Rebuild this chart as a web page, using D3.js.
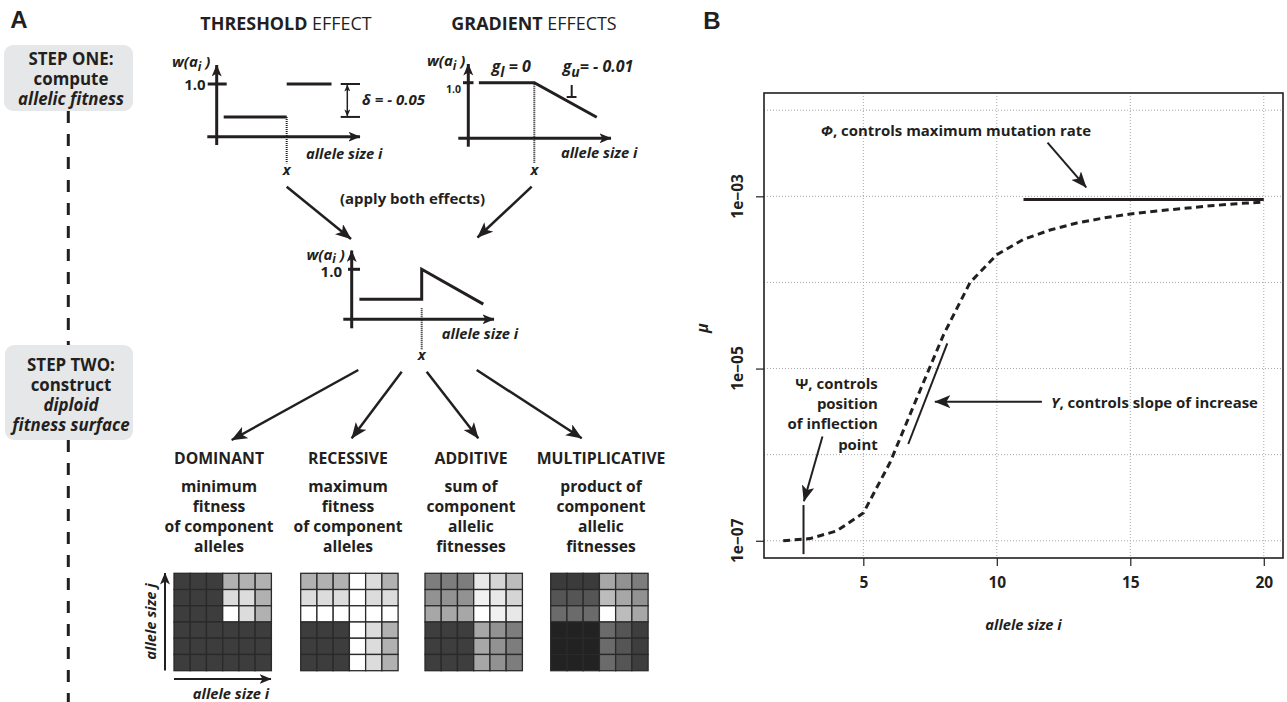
<!DOCTYPE html>
<html><head><meta charset="utf-8">
<script src="https://cdn.jsdelivr.net/npm/d3@7/dist/d3.min.js"></script>
<style>html,body{margin:0;padding:0;background:#fff;} svg{display:block;}</style>
</head><body>
<svg id="fig" width="1287" height="702"></svg>
<script>
// ================= DATA =================
// Panel B: mutation rate curve
const alleleSizes = [2,3,4,5,6,7,8,9,10,11,12,13,14,15,16,17,18,19,20];
const mutationRate = [1.0e-7,1.06e-7,1.30e-7,2.1e-7,8.1e-7,4.5e-6,2.45e-5,1.0e-4,2.1e-4,3.16e-4,4.07e-4,4.9e-4,5.6e-4,6.24e-4,6.76e-4,7.24e-4,7.76e-4,8.22e-4,8.6e-4];
const phiLevel = 9.2e-4;
const phiRange = [11, 20];
const xTickValues = [5, 10, 15, 20];
const yTickValues = [1e-3, 1e-5, 1e-7];
const yTickLabels = ["1e\u221203", "1e\u221205", "1e\u221207"];
const yGridValues = [1e-2, 1e-3, 1e-4, 1e-5, 1e-6, 1e-7];

// Panel A: schematic allelic fitness curves [allele size, fitness]
const thresholdLow  = [[0.5, 0.95], [5, 0.95]];
const thresholdHigh = [[5, 1.0], [8.2, 1.0]];
const gradientCurve = [[0.8, 1.0], [5, 1.0], [9.73, 0.9527]];
const combinedCurve = [[0.55, 0.95], [5, 0.95], [5, 1.0], [9.4, 0.942]];

const modelNames = ["DOMINANT", "RECESSIVE", "ADDITIVE", "MULTIPLICATIVE"];
const modelDescriptions = [
  ["minimum", "fitness", "of component", "alleles"],
  ["maximum", "fitness", "of component", "alleles"],
  ["sum of", "component", "allelic", "fitnesses"],
  ["product of", "component", "allelic", "fitnesses"]
];
// diploid fitness surfaces: grey level (0 black .. 255 white), rows top->bottom
const dominantGrid = [
  [61,61,61,177,177,177],
  [61,61,61,220,220,177],
  [61,61,61,255,220,177],
  [61,61,61,61,61,61],
  [61,61,61,61,61,61],
  [61,61,61,61,61,61]
];
const recessiveGrid = [
  [177,177,177,255,220,177],
  [220,220,220,255,220,220],
  [255,255,255,255,255,255],
  [61,61,61,255,220,177],
  [61,61,61,255,220,177],
  [61,61,61,255,220,177]
];
const additiveGrid = [
  [125,125,125,232,213,188],
  [146,146,146,241,232,213],
  [167,167,167,255,241,232],
  [62,62,62,167,146,125],
  [62,62,62,167,146,125],
  [62,62,62,167,146,125]
];
const multiplicativeGrid = [
  [59,59,59,167,146,125],
  [85,85,85,188,167,146],
  [107,107,107,255,188,167],
  [34,34,34,107,85,62],
  [34,34,34,107,85,62],
  [34,34,34,107,85,62]
];

// ================= HELPERS =================
const INK = '#231f20';
const FONT = '"Open Sans", Lato, "DejaVu Sans", sans-serif';
const svg = d3.select('#fig');
const defs = svg.append('defs');
function addMarker(id, len, wid) {
  defs.append('marker').attr('id', id)
    .attr('viewBox', `0 ${-wid/2} ${len} ${wid}`)
    .attr('refX', len - 0.5).attr('refY', 0)
    .attr('markerUnits', 'userSpaceOnUse')
    .attr('markerWidth', len).attr('markerHeight', wid)
    .attr('orient', 'auto-start-reverse')
    .append('path')
    .attr('d', `M0,${-wid/2}L${len},0L0,${wid/2}L${len*0.25},0Z`)
    .attr('fill', INK);
}
addMarker('ahL', 16, 13);
addMarker('ahM', 12, 10);
addMarker('ahS', 7, 6);

function fillParts(t, parts) {
  if (typeof parts === 'string') { t.text(parts); return; }
  parts.forEach(p => {
    const s = t.append('tspan').text(p.t);
    if (p.w) s.attr('font-weight', p.w);
    if (p.s) s.attr('font-style', p.s);
    if (p.dy !== undefined) s.attr('dy', p.dy);
    if (p.fs) s.attr('font-size', p.fs);
  });
}
const meas = svg.append('text').attr('font-family', FONT).attr('visibility', 'hidden');
function textWidth(parts, size, o = {}) {
  meas.selectAll('*').remove(); meas.text(null);
  meas.attr('font-size', size).attr('font-weight', o.weight || 'bold').attr('font-style', o.style || 'normal');
  fillParts(meas, parts);
  return meas.node().getComputedTextLength();
}
// font size that gives the width measured on the reference
function fitSize(parts, target, o = {}) {
  const s = 16 * target / textWidth(parts, 16, o);
  return Math.max(11, Math.min(20, s));
}
function label(g, x, y, parts, o = {}) {
  const size = o.size || 16;
  const t = g.append('text')
    .attr('font-family', o.family || FONT)
    .attr('font-size', size)
    .attr('font-weight', o.weight || 'bold')
    .attr('font-style', o.style || 'normal')
    .attr('fill', INK)
    .attr('text-anchor', o.anchor || 'middle');
  if (o.rotate) t.attr('transform', `translate(${x},${y}) rotate(${o.rotate})`).attr('x', 0).attr('y', size * 0.36);
  else t.attr('x', x).attr('y', y + size * 0.36);
  fillParts(t, parts);
  return t;
}
function seg(g, x1, y1, x2, y2, o = {}) {
  const l = g.append('line').attr('x1', x1).attr('y1', y1).attr('x2', x2).attr('y2', y2)
    .attr('stroke', o.color || INK).attr('stroke-width', o.w || 3);
  if (o.dash) l.attr('stroke-dasharray', o.dash);
  if (o.end) l.attr('marker-end', `url(#${o.end})`);
  if (o.start) l.attr('marker-start', `url(#${o.start})`);
  return l;
}

// font sizes fitted to widths on the reference
const sStep = fitSize('STEP ONE:', 85);
const titleThr = [{ t: 'THRESHOLD', w: 'bold' }, { t: ' EFFECT', w: 'normal' }];
const titleGrad = [{ t: 'GRADIENT', w: 'bold' }, { t: ' EFFECTS', w: 'normal' }];
const sTitle = (fitSize(titleThr, 171.7) + fitSize(titleGrad, 165)) / 2;
const sApply = fitSize('(apply both effects)', 145);
const sAllele = fitSize('allele size i', 76.5, { style: 'italic' });
const sModel = (fitSize('DOMINANT', 85) + fitSize('MULTIPLICATIVE', 132) + fitSize('RECESSIVE', 82.6)) / 3;
const sDesc = (fitSize('of component', 115) + fitSize('minimum', 71.7) + fitSize('product of', 81.7)) / 3;
const phiText = [{ t: '\u03a6', s: 'italic' }, { t: ', controls maximum mutation rate' }];
const upsText = [{ t: '\u03a5', s: 'italic' }, { t: ', controls slope of increase' }];
const sAnnB = (fitSize(phiText, 269.5) + fitSize(upsText, 208)) / 2;

// ================= PANEL A =================
const gA = svg.append('g');
label(gA, 19, 19, 'A', { size: 24, family: '"Liberation Sans", Arial, sans-serif' });

// spine & step boxes
seg(gA, 68.3, 111, 68.3, 345, { dash: '12,11' });
seg(gA, 68.3, 440, 68.3, 702, { dash: '12,11' });
gA.append('rect').attr('x', 4).attr('y', 45).attr('width', 129).attr('height', 66).attr('rx', 9).attr('fill', '#e6e7e8');
gA.append('rect').attr('x', 5).attr('y', 345).attr('width', 128).attr('height', 95).attr('rx', 9).attr('fill', '#e6e7e8');
label(gA, 71, 58.5, 'STEP ONE:', { size: sStep });
label(gA, 71, 78.5, 'compute', { size: sStep });
label(gA, 71, 98.5, 'allelic fitness', { size: sStep, style: 'italic' });
label(gA, 71, 365, 'STEP TWO:', { size: sStep });
label(gA, 71, 385, 'construct', { size: sStep });
label(gA, 71, 405, 'diploid', { size: sStep, style: 'italic' });
label(gA, 71, 425, 'fitness surface', { size: sStep, style: 'italic' });

// titles
label(gA, 286, 24, titleThr, { size: sTitle });
label(gA, 534, 24, titleGrad, { size: sTitle });

const wLabel = [{ t: 'w(a' }, { t: 'i', dy: 3.5, fs: 12 }, { t: ' )', dy: -3.5 }];
const lineGen = (xs, ys) => d3.line().x(d => xs(d[0])).y(d => ys(d[1]));

// --- threshold mini plot
const xs1 = d3.scaleLinear().domain([0, 10]).range([216.7, 356.7]);
const ys1 = d3.scaleLinear().domain([0.92, 1.0]).range([136.7, 84]);
seg(gA, xs1(0), 145, xs1(0), 65, { end: 'ahM' });
seg(gA, 207.3, ys1(0.92), 360, ys1(0.92), { end: 'ahM' });
seg(gA, xs1(0) - 9, ys1(1), xs1(0) + 10, ys1(1));
label(gA, xs1(0) - 11, ys1(1) + 1, '1.0', { size: 15, anchor: 'end' });
label(gA, 172, 62, wLabel, { size: 15, anchor: 'start', style: 'italic' });
gA.append('path').attr('d', lineGen(xs1, ys1)(thresholdLow)).attr('fill', 'none').attr('stroke', INK).attr('stroke-width', 3);
gA.append('path').attr('d', lineGen(xs1, ys1)(thresholdHigh)).attr('fill', 'none').attr('stroke', INK).attr('stroke-width', 3);
seg(gA, xs1(5), ys1(0.95), xs1(5), 163.3, { w: 2, dash: '1,1' });
label(gA, xs1(5), 170, 'x', { size: sAllele, style: 'italic' });
label(gA, 344.2, 153.3, 'allele size i', { size: sAllele, style: 'italic' });
// delta bracket
seg(gA, 340.7, ys1(1), 360, ys1(1), { w: 2 });
seg(gA, 340.7, ys1(0.95), 360, ys1(0.95), { w: 2 });
seg(gA, 347.3, ys1(1) + 1, 347.3, ys1(0.95) - 1, { w: 1.5, start: 'ahS', end: 'ahS' });
label(gA, 362, 100, '\u03b4 = - 0.05', { size: 15, style: 'italic', anchor: 'start' });

// --- gradient mini plot
const xs2 = d3.scaleLinear().domain([0, 10]).range([468.3, 600.3]);
const ys2 = d3.scaleLinear().domain([0.924, 1.0]).range([138.3, 82.7]);
seg(gA, xs2(0), 146.7, xs2(0), 64, { end: 'ahM' });
seg(gA, 458.3, ys2(0.924), 611, ys2(0.924), { end: 'ahM' });
seg(gA, 463, ys2(1), 473.5, ys2(1));
label(gA, 461, 89, '1.0', { size: 10.5, anchor: 'end' });
label(gA, 427, 61, wLabel, { size: 15, anchor: 'start', style: 'italic' });
gA.append('path').attr('d', lineGen(xs2, ys2)(gradientCurve)).attr('fill', 'none').attr('stroke', INK).attr('stroke-width', 3);
seg(gA, xs2(5), ys2(1) + 1, xs2(5), 163.3, { w: 2, dash: '1,1' });
label(gA, xs2(5), 170, 'x', { size: sAllele, style: 'italic' });
label(gA, 599.2, 152.7, 'allele size i', { size: sAllele, style: 'italic' });
label(gA, 491.7, 66.7, [{ t: 'g' }, { t: 'l', dy: 5, fs: 14 }, { t: ' = 0', dy: -5 }], { size: 16, style: 'italic', anchor: 'start' });
label(gA, 562.7, 66.7, [{ t: 'g' }, { t: 'u', dy: 5, fs: 14 }, { t: '= - 0.01', dy: -5 }], { size: 16, style: 'italic', anchor: 'start' });
seg(gA, 571.7, 85, 571.7, 97, { w: 2 });
seg(gA, 566.7, 97, 576.5, 97, { w: 2 });

// --- apply both effects
label(gA, 412.5, 198.3, '(apply both effects)', { size: sApply });
seg(gA, 286.7, 186.7, 351, 239, { w: 2.5, end: 'ahL' });
seg(gA, 531.7, 186.7, 477.5, 237.5, { w: 2.5, end: 'ahL' });

// --- combined mini plot
const xs3 = d3.scaleLinear().domain([0, 10]).range([351.7, 491.7]);
const ys3 = d3.scaleLinear().domain([0.9167, 1.0]).range([319.3, 269.3]);
seg(gA, xs3(0), 328.3, xs3(0), 250.5, { end: 'ahM' });
seg(gA, 343.3, ys3(0.9167), 494, ys3(0.9167), { end: 'ahM' });
seg(gA, 348, ys3(1), 360, ys3(1));
label(gA, 342, 271.5, '1.0', { size: 15, anchor: 'end' });
label(gA, 306.5, 254.5, wLabel, { size: 15, anchor: 'start', style: 'italic' });
gA.append('path').attr('d', lineGen(xs3, ys3)(combinedCurve)).attr('fill', 'none').attr('stroke', INK).attr('stroke-width', 3);
seg(gA, xs3(5), 308.3, xs3(5), 350, { w: 2, dash: '1,1' });
label(gA, xs3(5), 355, 'x', { size: sAllele, style: 'italic' });
label(gA, 480, 334, 'allele size i', { size: sAllele, style: 'italic' });

// --- arrows to four models
const arrowStarts = [[358.3, 370], [401.7, 371.7], [426.7, 371.7], [476.7, 370]];
const arrowEnds = [[231.7, 440], [351.7, 438.3], [478.3, 438.3], [581.7, 438.3]];
arrowStarts.forEach((s, k) => seg(gA, s[0], s[1], arrowEnds[k][0], arrowEnds[k][1], { w: 2.5, end: 'ahL' }));

// --- model columns
const colCenters = [219, 348, 471, 601];
const gridLeft = [174, 300.7, 425, 550.7];
const gridTop = 573.3, gridSize = 97.4;
modelNames.forEach((n, k) => {
  label(gA, colCenters[k], 458.3, n, { size: sModel });
  modelDescriptions[k].forEach((line, j) => label(gA, colCenters[k], 486.7 + 20 * j, line, { size: sDesc }));
});
const grids = [dominantGrid, recessiveGrid, additiveGrid, multiplicativeGrid];
grids.forEach((grid, k) => {
  const bx = d3.scaleBand().domain(d3.range(6)).range([gridLeft[k], gridLeft[k] + gridSize]);
  const by = d3.scaleBand().domain(d3.range(6)).range([gridTop, gridTop + gridSize]);
  const cells = grid.flatMap((row, r) => row.map((v, c) => ({ r, c, v })));
  gA.append('g').selectAll('rect').data(cells).join('rect')
    .attr('x', d => bx(d.c)).attr('y', d => by(d.r))
    .attr('width', bx.bandwidth()).attr('height', by.bandwidth())
    .attr('fill', d => d3.rgb(d.v, d.v, d.v))
    .attr('stroke', '#2a2a2a').attr('stroke-width', 1.3);
});
seg(gA, 165, 670.5, 165, 573, { w: 2, end: 'ahM' });
seg(gA, 174, 679, 271, 679, { w: 2, end: 'ahM' });
label(gA, 150.5, 621.5, 'allele size j', { size: sAllele, style: 'italic', rotate: -90 });
label(gA, 231, 693.5, 'allele size i', { size: sAllele, style: 'italic' });

// ================= PANEL B =================
const gB = svg.append('g');
label(gB, 712, 20, 'B', { size: 24, family: '"Liberation Sans", Arial, sans-serif' });
const xB = d3.scaleLinear().domain([1.28, 20.72]).range([764, 1283]);
const yB = d3.scaleLog().domain([Math.pow(10, -7.2), Math.pow(10, -1.8)]).range([558, 93]);
const [yBot, yTop] = yB.range();
const [xL, xR] = xB.range();
const P = (x, lg) => [xB(x), yB(Math.pow(10, lg))];

// grid
gB.append('g').selectAll('line').data(xTickValues).join('line')
  .attr('x1', d => xB(d)).attr('x2', d => xB(d)).attr('y1', yTop).attr('y2', yBot)
  .attr('stroke', '#a8a8a8').attr('stroke-width', 1).attr('stroke-dasharray', '1,2');
gB.append('g').selectAll('line').data(yGridValues).join('line')
  .attr('x1', xL).attr('x2', xR).attr('y1', d => yB(d)).attr('y2', d => yB(d))
  .attr('stroke', '#a8a8a8').attr('stroke-width', 1).attr('stroke-dasharray', '1,2');

// axes
const axX = gB.append('g').attr('transform', `translate(0,${yBot})`)
  .call(d3.axisBottom(xB).tickValues(xTickValues).tickSize(8).tickSizeOuter(0));
axX.select('.domain').remove();
axX.selectAll('line').attr('stroke', INK).attr('stroke-width', 1.2);
axX.selectAll('text').attr('font-family', FONT).attr('font-size', 15.5).attr('font-weight', 'bold')
  .attr('fill', INK).attr('y', 19);
const axY = gB.append('g').attr('transform', `translate(${xL},0)`)
  .call(d3.axisLeft(yB).tickValues(yTickValues).tickSize(8).tickSizeOuter(0).tickFormat(''));
axY.select('.domain').remove();
axY.selectAll('line').attr('stroke', INK).attr('stroke-width', 1.2);
yTickValues.forEach((v, i) => label(gB, 737.6, yB(v), yTickLabels[i], { size: 15.5, rotate: -90 }));
gB.append('rect').attr('x', xL).attr('y', yTop).attr('width', xR - xL).attr('height', yBot - yTop)
  .attr('fill', 'none').attr('stroke', INK).attr('stroke-width', 1.6);
label(gB, 702, 328, '\u03bc', { size: 16, style: 'italic', rotate: -90 });
label(gB, (xL + xR) / 2, 625, 'allele size i', { size: sAllele, style: 'italic' });

// curve
const curvePts = alleleSizes.map((a, i) => [a, mutationRate[i]]);
gB.append('path').attr('d', d3.line().x(d => xB(d[0])).y(d => yB(d[1]))(curvePts))
  .attr('fill', 'none').attr('stroke', INK).attr('stroke-width', 3).attr('stroke-dasharray', '7,4.5');

// Phi annotation
seg(gB, xB(phiRange[0]), yB(phiLevel), xB(phiRange[1]), yB(phiLevel), { w: 3 });
label(gB, ...P(8.47, -2.238), phiText, { size: sAnnB });
seg(gB, ...P(11.9, -2.377), ...P(13.35, -2.895), { w: 2, end: 'ahL' });

// Psi annotation
seg(gB, ...P(2.76, -6.585), ...P(2.76, -7.155), { w: 2 });
seg(gB, ...P(3.47, -5.79), ...P(2.775, -6.54), { w: 2, end: 'ahL' });
const psiLines = ['\u03a8, controls', 'position', 'of inflection', 'point'];
const psiLg = [-5.171, -5.403, -5.644, -5.880];
psiLines.forEach((l, i) => label(gB, ...P(5.54, psiLg[i]), l, { size: sAnnB, anchor: 'end' }));

// Upsilon annotation
seg(gB, ...P(6.684, -5.876), ...P(8.145, -4.707), { w: 2 });
seg(gB, ...P(11.69, -5.385), ...P(7.68, -5.385), { w: 2, end: 'ahL' });
label(gB, ...P(12.03, -5.392), upsText, { size: sAnnB, anchor: 'start' });
meas.remove();
</script>
</body></html>
